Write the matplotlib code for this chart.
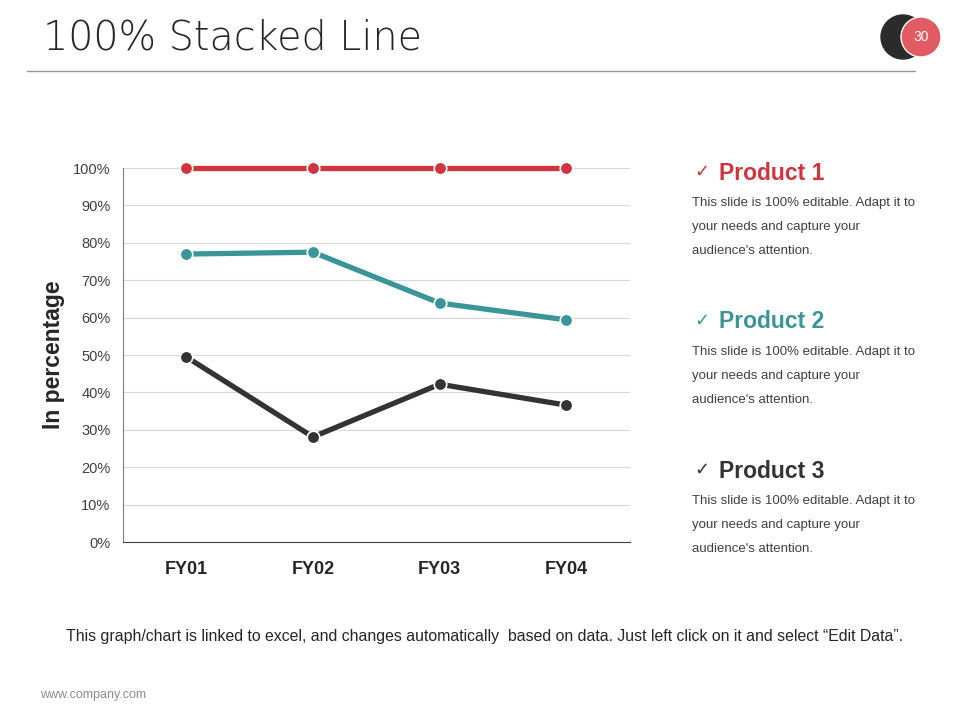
import matplotlib.pyplot as plt
from matplotlib.patches import Ellipse

# données du graphique
categories = ['FY01', 'FY02', 'FY03', 'FY04']
product1 = [100, 100, 100, 100]
product2 = [77.0, 77.5, 63.9, 59.4]
product3 = [49.5, 28.1, 42.2, 36.6]
series_names = ['Product 1', 'Product 2', 'Product 3']
series_colors = ['#d1343f', '#3a9598', '#333333']
yticks = [0, 10, 20, 30, 40, 50, 60, 70, 80, 90, 100]

body = "This slide is 100% editable. Adapt it to\nyour needs and capture your\naudience's attention."

plt.rcParams['font.family'] = ['Liberation Sans', 'DejaVu Sans']

W, H = 960, 720
fig = plt.figure(figsize=(9.6, 7.2), dpi=100)
fig.patch.set_facecolor('white')

ax = fig.add_axes([0.128, 0.2472, 0.528, 0.5194])
x = range(len(categories))
for vals, col in zip([product1, product2, product3], series_colors):
    ax.plot(x, vals, color=col, linewidth=3.8, marker='o', markersize=9,
            markeredgecolor='white', markeredgewidth=1.2, clip_on=False, zorder=3)

ax.set_xlim(-0.5, 3.5)
ax.set_ylim(0, 100)
ax.set_yticks(yticks)
ax.set_yticklabels([f'{v}%' for v in yticks], fontsize=10.5, color='#404040')
ax.set_xticks(list(x))
ax.set_xticklabels(categories, fontsize=13, fontweight='bold', color='#262626')
ax.tick_params(axis='x', length=0, pad=14)
ax.tick_params(axis='y', length=0, pad=9)
ax.yaxis.grid(True, color='#d9d9d9', linewidth=0.8)
ax.set_axisbelow(True)
for s in ['top', 'right']:
    ax.spines[s].set_visible(False)
ax.spines['left'].set_color('#7f7f7f')
ax.spines['bottom'].set_color('#404040')
ax.set_ylabel('In percentage', fontsize=16.5, fontweight='bold', color='#262626', labelpad=6)

# titre et ligne
fig.text(0.045, 0.947, '100% Stacked Line', fontsize=28.5, color='#262626',
         family='DejaVu Sans', fontweight='light', va='center')
fig.add_artist(plt.Line2D([27/W, 915/W], [1-71/H, 1-71/H], color='#999999', linewidth=1))

# pastilles en haut à droite
fig.add_artist(Ellipse((903/W, 1-37/H), 44/W, 44/H, transform=fig.transFigure, color='#2b2b2b'))
fig.add_artist(Ellipse((921/W, 1-37/H), 40/W, 40/H, transform=fig.transFigure,
                       facecolor='#e35b62', edgecolor='white', linewidth=1))
fig.text(921/W, 1-37/H, '30', color='white', fontsize=10, ha='center', va='center')

# légendes à droite
ys = [173, 322, 471]
for name, col, y in zip(series_names, series_colors, ys):
    fig.text(694/W, 1-(y-1)/H, '\u2713', color=col, fontsize=13, va='center', family='DejaVu Sans')
    fig.text(719/W, 1-y/H, name, color=col, fontsize=16.5, fontweight='bold', va='center')
    fig.text(692/W, 1-(y+24)/H, body, color='#404040', fontsize=9.5, va='top', linespacing=2.35)

fig.text(484/W, 1-637/H, 'This graph/chart is linked to excel, and changes automatically  based on data. Just left click on it and select \u201cEdit Data\u201d.',
         fontsize=11.4, color='#262626', ha='center', va='center')
fig.text(40/W, 1-695/H, 'www.company.com', fontsize=9, color='#8c8c8c', va='center')

fig.savefig('out.png', dpi=100)
